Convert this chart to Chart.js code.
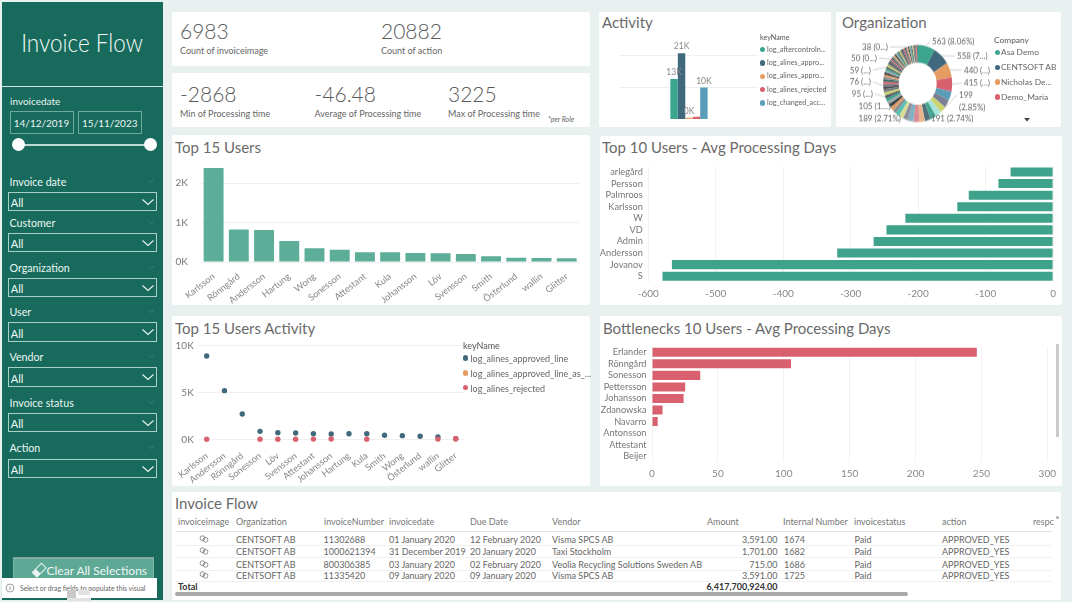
<!DOCTYPE html>
<html><head><meta charset="utf-8">
<script src="https://cdn.jsdelivr.net/npm/chart.js@4"></script>
<style>
html,body{margin:0;padding:0;background:#e8f1f0;width:1072px;height:602px;overflow:hidden;font-family:Lato,sans-serif}
.a{position:absolute}
.a svg{display:block}
.t{position:absolute;white-space:nowrap;transform:translateY(-50%);line-height:1}
canvas{position:absolute}
</style></head><body>
<script>
const FONT='Lato,sans-serif';
// ---- data ----
const top15Users=["Karlsson","Rönngård","Andersson","Hartung","Wong","Sonesson","Attestant","Kula","Johansson","Löv","Svensson","Smith","Österlund","wallin","Glitter"];
const top15Counts=[2380,820,810,530,350,310,250,250,230,220,200,145,110,100,95];
const top15Ticks=[0,1000,2000];
const activityUsers=["Karlsson","Andersson","Rönngård","Sonesson","Löv","Svensson","Attestant","Johansson","Hartung","Kula","Smith","Wong","Österlund","wallin","Glitter"];
const approvedLine=[8900,5200,2700,850,710,680,600,570,600,600,430,390,320,250,70];
const approvedLineAs=[null,null,null,null,null,null,null,null,null,null,null,null,null,null,60];
const rejectedLine=[10,null,null,15,10,10,20,30,null,15,null,null,null,20,60];
const scatterTicks=[0,5000,10000];
const activityKeys=["log_aftercontroln...","log_alines_appro...","log_alines_appro...","log_alines_rejected","log_changed_acc..."];
const activityValues=[12700,20882,400,700,10000];
const activityTicks=[10000,20000];
const activityColors=["#3ba58e","#41697d","#e59c62","#d9606e","#5a9db9"];
const scatterKeys=["log_alines_approved_line","log_alines_approved_line_as_...","log_alines_rejected"];
const scatterColors=["#41697d","#e59c62","#d9606e"];
const slowUsers=["arlegård","Persson","Palmroos","Karlsson","W","VD","Admin","Andersson","Jovanov","S"];
const slowDays=[-63,-81,-125,-142,-219,-247,-266,-320,-565,-579];
const bottleUsers=["Erlander","Rönngård","Sonesson","Pettersson","Johansson","Zdanowska","Navarro","Antonsson","Attestant","Beijer"];
const bottleDays=[246.5,105.5,36.6,25.2,24,8,4.3,0,0,0];
const orgValues=[563,558,440,415,270,230,199,195,193,191,190,189,180,165,150,135,120,112,105,100,97,95,90,85,80,76,74,72,70,68,66,62,60,59,58,56,54,52,50,48,47,46,45,44,44,43,42,41,41,40,40,39,39,38,37,36,35,34,33,32,31,30,29,25];
const orgPalette=["#3ba58e","#41697d","#e59c62","#d9606e","#5a9db9","#7b7f93","#cdd36f","#a8e4dc","#45a893","#4f6f7c","#eab48c","#d98a92","#7fb0c6","#8b8f9c","#d8dc96","#56c0b0"];
const orgTail=["#444b50","#6e7377","#d9606e","#33635e","#8b8f91","#e59c62","#2f3d44","#a4a8a8","#3ba58e","#555b60","#cdd36f","#777b80"];
const orgColors=orgValues.map((v,i)=>i<16?orgPalette[i]:orgTail[i%orgTail.length]);
const orgLabels=[[0,"563 (8.06%)"],[1,"558 (7...)"],[2,"440 (...)"],[3,"415 (...)"],[6,"199"],[9,"191 (2.74%)"],[11,"189 (2.71%)"],[18,"105 (1....)"],[21,"95 (...)"],[25,"76 (...)"],[33,"59 (...)"],[38,"50 (0...)"],[53,"38 (0...)"]];
const orgLabelPlaces=[[932,41,"left"],[957,56,"left"],[964,70,"left"],[964,83,"left"],[959,95,"left"],[931,118,"left"],[901,118,"right"],[891,106,"right"],[873,94,"right"],[871,82,"right"],[871,70,"right"],[877,58,"right"],[888,47,"right"]];
const orgCompanies=["Asa Demo","CENTSOFT AB","Nicholas De...","Demo_Maria"];
const tableHeaders=[["invoiceimage",178],["Organization",236],["invoiceNumber",324],["invoicedate",389],["Due Date",470],["Vendor",552],["Amount",707],["Internal Number",783],["invoicestatus",854],["action",942],["respc",1033]];
const tableRows=[
 ["CENTSOFT AB","11302688","01 January 2020","12 February 2020","Visma SPCS AB","3,591.00","1674","Paid","APPROVED_YES"],
 ["CENTSOFT AB","1000621394","31 December 2019","20 January 2020","Taxi Stockholm","1,701.00","1682","Paid","APPROVED_YES"],
 ["CENTSOFT AB","800306385","03 January 2020","02 February 2020","Veolia Recycling Solutions Sweden AB","715.00","1686","Paid","APPROVED_YES"],
 ["CENTSOFT AB","11335420","09 January 2020","09 January 2020","Visma SPCS AB","3,591.00","1725","Paid","APPROVED_YES"]];
const tableTotal="6,417,700,924.00";
const filters=[["Invoice date",182,192,211],["Customer",223,233,252],["Organization",268,278,297],["User",312,322,342],["Vendor",357,367,387],["Invoice status",403,413,432],["Action",448,459,478]];
// ---- page helpers ----
const GRAY="#666";
function box(x,y,w,h,css){const d=document.createElement('div');d.className='a';d.style.cssText+=`left:${x}px;top:${y}px;width:${w}px;height:${h}px;${css||''}`;document.body.appendChild(d);return d;}
function txt(x,y,s,size,color,css){const d=document.createElement('div');d.className='t';d.textContent=s;d.style.cssText+=`left:${x}px;top:${y}px;font-size:${size}px;color:${color||GRAY};${css||''}`;document.body.appendChild(d);return d;}
function svg(x,y,w,h,inner){const d=document.createElement('div');d.className='a';d.style.cssText=`left:${x}px;top:${y}px;width:${w}px;height:${h}px`;d.innerHTML=`<svg width="${w}" height="${h}" viewBox="0 0 ${w} ${h}">${inner}</svg>`;document.body.appendChild(d);}
function card(x,y,w,h){box(x,y,w,h,'background:#fff;border-radius:2px');}
function canvas(x,y,w,h){const c=document.createElement('canvas');c.width=w;c.height=h;c.style.cssText=`left:${x}px;top:${y}px;width:${w}px;height:${h}px`;document.body.appendChild(c);return c;}
function dotLegend(title,tx,ty,items,colors,ys,dx,textx,size){txt(tx,ty,title,size,'#555');items.forEach((s,i)=>{box(dx-2.6,ys[i]-2.6,5.2,5.2,`border-radius:50%;background:${colors[i]}`);txt(textx,ys[i],s,size,GRAY);});}
const fixedTicks=arr=>s=>{s.ticks=arr.map(v=>({value:v}));};

// ---- sidebar ----
const W='#eaf5f2';
box(2,2,160.5,598,'background:#186b5c');
txt(82,43,'Invoice Flow',22.5,'#f2faf8','font-weight:300;transform:translate(-50%,-50%) scaleY(1.1)');
box(2,85.5,160.5,1,'background:#cfe8e2');
txt(10,100.5,'invoicedate',10,W);
box(9.5,111,64,22.5,'box-sizing:border-box;border:1px solid #6fa99c');
box(77.5,111,64.5,22.5,'box-sizing:border-box;border:1px solid #6fa99c');
txt(41.5,122.5,'14/12/2019',10,W,'transform:translate(-50%,-50%)');
txt(109.8,122.5,'15/11/2023',10,W,'transform:translate(-50%,-50%)');
box(18,143.5,132,2.4,'background:#bcdad3');
box(11.5,138,13,13,'border-radius:50%;background:#fff');
box(144,138,13,13,'border-radius:50%;background:#fff');
filters.forEach(f=>{
  txt(9.5,f[1],f[0],10.7,W);
  box(7.5,f[2],149,f[3]-f[2],'box-sizing:border-box;border:1px solid #a9d0c7');
  txt(10.8,(f[2]+f[3])/2+.5,'All',11,'#f2faf8');
  svg(141,(f[2]+f[3])/2-4,14,8,'<polyline points="1.5,1.5 7,6.5 12.5,1.5" fill="none" stroke="#eaf5f2" stroke-width="1.1"/>');
  svg(147,f[1]-3,8,5,'<polyline points="1,1 4,3.5 7,1" fill="none" stroke="#367f70" stroke-width="1"/>');
});
box(12.5,557,141.5,24,'background:#5ea995;border-top:1px solid #8c9c98;box-sizing:border-box;box-shadow:inset 0 0 0 1px #7fb3a5');
svg(31,562,16,16,'<g transform="rotate(-45 8 8)"><rect x="1.5" y="5" width="13" height="6.5" fill="none" stroke="#eaf5f2" stroke-width="1"/><rect x="1.5" y="5" width="5" height="6.5" fill="#eaf5f2"/></g>');
txt(46.5,570.5,'Clear All Selections',12,'#eef7f4');
box(2,578,155,20,'background:#fff');
svg(5,583,10,10,'<circle cx="5" cy="5" r="4" fill="none" stroke="#777" stroke-width=".7"/><rect x="4.6" y="4" width=".8" height="3" fill="#777"/><rect x="4.6" y="2.6" width=".8" height=".8" fill="#777"/>');
txt(20,588,'Select or drag fields to populate this visual',6.8,'#666');
box(67,590,9,8,'background:#c9c9c9');box(78,590,12,5,'background:#e2e2e2');box(67,598,24,3,'background:#dfe3e2');

// ---- KPI cards ----
card(172,12,418,54);card(172,73,418,54);
const kpi='#5a5a5a',KW='font-weight:300';
txt(180,30,'6983',21,kpi,KW);txt(180,50.3,'Count of invoiceimage',9,GRAY);
txt(381,30,'20882',21,kpi,KW);txt(381,50.3,'Count of action',9,GRAY);
txt(180,93,'-2868',21,kpi,KW);txt(180,113.3,'Min of Processing time',9,GRAY);
txt(314.5,93,'-46.48',21,kpi,KW);txt(314.5,113.3,'Average of Processing time',9,GRAY);
txt(448,93,'3225',21,kpi,KW);txt(448,113.3,'Max of Processing time',9,GRAY);
txt(548,118.7,'*per Role',7,GRAY,'font-style:italic');

// ---- chart cards ----
card(599,12,232,115);card(836,12,225,115);
card(172,135,418,170);card(600,136,462,169);
card(172,316,418,170);card(600,316,462,170);
card(172,492,889,108);
const tcol='#6a6a6a';
txt(602,22,'Activity',15,tcol);
txt(842,22,'Organization',15,tcol);
txt(175,147,'Top 15 Users',15,tcol);
txt(602,147,'Top 10 Users - Avg Processing Days',15,tcol);
txt(175,327.5,'Top 15 Users Activity',15,tcol);
txt(603,327.5,'Bottlenecks 10 Users - Avg Processing Days',15,tcol);
txt(175,503,'Invoice Flow',15,tcol);

Chart.defaults.animation=false;
Chart.defaults.font.family=FONT;
Chart.defaults.color='#777';
const noPlug={legend:{display:false},tooltip:{enabled:false}};
const base={responsive:false,maintainAspectRatio:false,animation:false};
const rotX={autoSkip:false,maxRotation:38,minRotation:38,font:{size:9.2},color:'#888'};

// Top 15 users
new Chart(canvas(172,135,418,170),{type:'bar',data:{labels:top15Users,datasets:[{data:top15Counts,backgroundColor:'#5cae99',categoryPercentage:.79,barPercentage:1}]},
 options:{...base,plugins:noPlug,layout:{padding:{left:0,top:32.2,right:10.7,bottom:0}},
  scales:{x:{afterFit:s=>{s.height=43},grid:{display:false},border:{display:false},ticks:{...rotX,padding:1}},
   y:{min:0,max:2400,afterBuildTicks:fixedTicks(top15Ticks),afterFit:s=>{s.width=29},border:{display:false},grid:{color:'#efefef',drawTicks:false},ticks:{padding:13,font:{size:10},color:'#777',callback:v=>(v/1000)+'K'}}}}});

// Top 15 users activity
new Chart(canvas(172,316,418,170),{type:'line',data:{labels:activityUsers,datasets:[
  {label:scatterKeys[2],data:rejectedLine,borderColor:scatterColors[2],backgroundColor:scatterColors[2],order:1},
  {label:scatterKeys[1],data:approvedLineAs,borderColor:scatterColors[1],backgroundColor:scatterColors[1],order:2},
  {label:scatterKeys[0],data:approvedLine,borderColor:scatterColors[0],backgroundColor:scatterColors[0],order:3}].map(d=>({...d,showLine:false,pointRadius:2.7,pointBorderWidth:0,clip:false}))},
 options:{...base,plugins:noPlug,layout:{padding:{left:0,top:29.7,right:125.4,bottom:0}},
  scales:{x:{offset:true,afterFit:s=>{s.height=46.7},grid:{display:false},border:{display:false},ticks:{...rotX,padding:3}},
   y:{min:0,max:10000,afterBuildTicks:fixedTicks(scatterTicks),afterFit:s=>{s.width=25.8},border:{display:false},grid:{color:'#efefef',drawTicks:false},ticks:{padding:4,font:{size:10},color:'#777',callback:v=>(v/1000)+'K'}}}}});
dotLegend('keyName',463,345,scatterKeys,scatterColors,[358,373,387.5],465.7,470.5,9);

// Activity
const barLabels={id:'barLabels',afterDatasetsDraw(ch){const c=ch.ctx;c.save();c.font='8.5px '+FONT;c.fillStyle='#888';c.textAlign='center';c.textBaseline='middle';
  ch.data.datasets.forEach((d,i)=>{if(i===3)return;const b=ch.getDatasetMeta(i).data[0];c.fillText(Math.round(d.data[0]/1000)+'K',b.x,b.y-6.5);});c.restore();}};
new Chart(canvas(599,12,232,115),{type:'bar',data:{labels:[""],datasets:activityKeys.map((k,i)=>({label:k,data:[activityValues[i]],backgroundColor:activityColors[i],categoryPercentage:.27,barPercentage:1}))},
 options:{...base,plugins:noPlug,layout:{padding:{left:21,top:31.4,right:73,bottom:8}},
  scales:{x:{display:false},y:{min:0,max:24000,afterBuildTicks:fixedTicks(activityTicks),afterFit:s=>{s.width=0},border:{display:false},grid:{color:'#efefef',drawTicks:false},ticks:{display:false}}}},plugins:[barLabels]});
dotLegend('keyName',760,38,activityKeys,activityColors,[49.7,63,76.3,89.7,103],762.7,767,7.2);

// Organization
const SY=77/69,ORGX=836,ORGY=12;
const orgLeaders={id:'orgLeaders',afterDraw(ch){const c=ch.ctx,m=ch.getDatasetMeta(0);c.save();c.font='8px '+FONT;c.textBaseline='middle';
  orgLabels.forEach((l,k)=>{const a=m.data[l[0]],mid=(a.startAngle+a.endAngle)/2,[px,py,al]=orgLabelPlaces[k];
    const ox=a.x+Math.cos(mid)*a.outerRadius,oy=a.y+Math.sin(mid)*a.outerRadius,tx=px-ORGX,ty=(py-ORGY)/SY,gx=tx+(al==='left'?-2:2);
    c.strokeStyle='#bbb';c.lineWidth=.6;c.beginPath();c.moveTo(ox,oy);c.lineTo(gx,ty);c.stroke();
    c.fillStyle='#666';c.textAlign=al;c.fillText(l[1],tx,ty);
    if(l[1]==='199'){c.fillText('(2.85%)',tx,(107-ORGY)/SY);}
  });c.restore();}};
const orgCanvas=canvas(836,12,225,Math.round(115/SY));
orgCanvas.style.transform=`scaleY(${115/Math.round(115/SY)})`;orgCanvas.style.transformOrigin='0 0';
new Chart(orgCanvas,{type:'doughnut',data:{labels:orgValues.map((v,i)=>'Company '+(i+1)),datasets:[{data:orgValues,backgroundColor:orgColors,borderWidth:0}]},
 options:{...base,cutout:'55%',plugins:noPlug,layout:{padding:{left:47.2,right:108.8,top:29.6,bottom:Math.round(115/SY)-98.6}}},plugins:[orgLeaders]});
dotLegend('Company',994,39.7,orgCompanies,activityColors,[52.3,67.3,82,97],997.3,1001,8.4);
svg(1024,118,6,4,'<polygon points="0,0 6,0 3,3.5" fill="#444"/>');

// Top 10 slow
const hBar=(labels,data,color,opts)=>new Chart(canvas(...opts.rect),{type:'bar',data:{labels,datasets:[{data,backgroundColor:color,categoryPercentage:.78,barPercentage:1}]},
 options:{...base,indexAxis:'y',plugins:noPlug,layout:{padding:{left:0,top:opts.top,right:opts.right,bottom:0}},
  scales:{y:{afterFit:s=>{s.width=opts.left},grid:{display:false,drawTicks:false},border:{display:false},ticks:{autoSkip:false,padding:opts.pad,font:{size:9.2},color:'#777'}},
   x:{min:opts.min,max:opts.max,afterFit:s=>{s.height=opts.xh},border:{display:false},grid:{color:'#f2f2f2',drawTicks:false},ticks:{stepSize:opts.step,padding:6,maxRotation:0,font:{size:10},color:'#888',callback:v=>String(v)}}}}});
hBar(slowUsers,slowDays,'#3fa38c',{rect:[600,136,462,169],top:30.2,right:6,left:48.3,pad:5.5,min:-600,max:0,step:100,xh:23});
hBar(bottleUsers,bottleDays,'#d9606e',{rect:[600,316,462,170],top:30.5,right:13.7,left:52,pad:5.5,min:0,max:300,step:50,xh:24});
box(1055.5,344,3,93,'background:#cbcbcb');

// Table
const HC='#777';
tableHeaders.forEach(h=>txt(h[1],521,h[0],9,HC));
box(1055.5,516,3,3,'border-radius:50%;background:#aaa');
box(176,531,876,1,'background:#e3e3e3');
const rowY=[538.7,551.3,563.7,575],lineY=[544.7,557.2,569.6,580.5];
const colX=[236,323.5,389,470,552,null,784,854.5,942];
tableRows.forEach((r,i)=>{
  svg(199,rowY[i]-4,10,8,'<circle cx="3.5" cy="3.2" r="2.4" fill="none" stroke="#777" stroke-width=".8"/><circle cx="6.5" cy="4.8" r="2.4" fill="none" stroke="#777" stroke-width=".8"/>');
  r.forEach((s,j)=>{if(j===5){txt(0,rowY[i],s,9,GRAY,`left:auto;right:${1072-777.5}px`);}else txt(colX[j],rowY[i],s,9,GRAY);});
  box(176,lineY[i],876,1,'background:#f0f0f0');
});
txt(178,586,'Total',9,'#333','font-weight:700');
txt(0,586,tableTotal,9,'#333',`left:auto;right:${1072-777.5}px;font-weight:700`);
box(175,591.5,733,4,'border-radius:2px;background:#a9a9a9');
</script>
</body></html>
